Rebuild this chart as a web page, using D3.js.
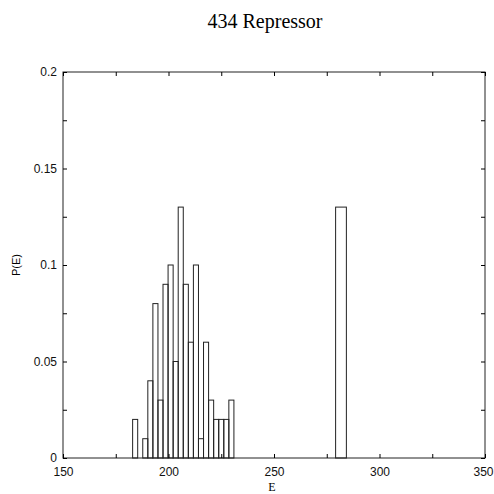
<!DOCTYPE html>
<html>
<head>
<meta charset="utf-8">
<script src="https://cdn.jsdelivr.net/npm/d3@7"></script>
<style>
  body { margin: 0; background: #fff; }
  .tick text { font-family: "Liberation Sans", Arial, sans-serif; font-size: 12px; fill: #111; }
</style>
</head>
<body>
<svg id="chart"></svg>
<script>
// histogram of energies, bins start at 183 and are 2.4 wide
const binStart = 183, binWidth = 2.4;
const binProbs = [0.02, 0, 0.01, 0.04, 0.08, 0.03, 0.09, 0.1, 0.05, 0.13,
                  0.09, 0.06, 0.1, 0.01, 0.06, 0.03, 0.02, 0.02, 0.02, 0.03];
// the lone tall bar on the right
const nativeBar = { e0: 279.2, e1: 284.3, p: 0.13 };

const xTicks = [150, 175, 200, 225, 250, 275, 300, 325, 350];
const xTickLabels = [150, 200, 250, 300, 350];
const yTicks = [0, 0.025, 0.05, 0.075, 0.1, 0.125, 0.15, 0.175, 0.2];
const yTickLabels = ["0", "0.05", "0.1", "0.15", "0.2"];

const width = 494, height = 494;
const margin = { top: 72, right: 9, bottom: 36, left: 63 };

const svg = d3.select("#chart")
    .attr("width", width)
    .attr("height", height);

const x = d3.scaleLinear().domain([150, 350]).range([margin.left, width - margin.right]);
const y = d3.scaleLinear().domain([0, 0.2]).range([height - margin.bottom, margin.top]);

const bins = binProbs.map((p, i) => ({ e0: binStart + i * binWidth, e1: binStart + (i + 1) * binWidth, p }));

//bars
svg.append("g")
  .selectAll("rect")
  .data(bins.concat([nativeBar]).filter(d => d.p > 0))
  .join("rect")
    .attr("x", d => x(d.e0))
    .attr("y", d => y(d.p))
    .attr("width", d => x(d.e1) - x(d.e0))
    .attr("height", d => y(0) - y(d.p))
    .attr("fill", "none")
    .attr("stroke", "#222")
    .attr("stroke-width", 1);

//frame
svg.append("rect")
    .attr("x", margin.left)
    .attr("y", margin.top)
    .attr("width", width - margin.left - margin.right)
    .attr("height", height - margin.top - margin.bottom)
    .attr("fill", "none")
    .attr("stroke", "#222");

const xLab = d => xTickLabels.includes(d) ? d : "";
const yLab = d => {
  const i = [0, 0.05, 0.1, 0.15, 0.2].findIndex(v => Math.abs(v - d) < 1e-9);
  return i >= 0 ? yTickLabels[i] : "";
};

//axes with inward ticks on all four sides
svg.append("g")
    .attr("transform", `translate(0,${y(0)})`)
    .call(d3.axisBottom(x).tickValues(xTicks).tickSize(-4).tickPadding(9).tickFormat(xLab))
    .call(g => g.select(".domain").remove())
    .call(g => g.selectAll(".tick text").filter(d => d === 350).attr("dx", -2));
svg.append("g")
    .attr("transform", `translate(0,${y(0.2)})`)
    .call(d3.axisTop(x).tickValues(xTicks).tickSize(-4).tickFormat(""))
    .call(g => g.select(".domain").remove());
svg.append("g")
    .attr("transform", `translate(${x(150)},0)`)
    .call(d3.axisLeft(y).tickValues(yTicks).tickSize(-4).tickPadding(6).tickFormat(yLab))
    .call(g => g.select(".domain").remove());
svg.append("g")
    .attr("transform", `translate(${x(350)},0)`)
    .call(d3.axisRight(y).tickValues(yTicks).tickSize(-4).tickFormat(""))
    .call(g => g.select(".domain").remove());

//title and axis labels
svg.append("text")
    .attr("x", 265).attr("y", 28)
    .attr("text-anchor", "middle")
    .attr("font-family", "Liberation Serif, Times New Roman, serif")
    .attr("font-size", 20)
    .text("434 Repressor");

svg.append("text")
    .attr("x", x(250) - 2).attr("y", 491)
    .attr("text-anchor", "middle")
    .attr("font-family", "Liberation Serif, serif")
    .attr("font-size", 12)
    .text("E");

svg.append("text")
    .attr("transform", `translate(20,${y(0.1)}) rotate(-90)`)
    .attr("text-anchor", "middle")
    .attr("font-family", "Liberation Sans, sans-serif")
    .attr("font-size", 11)
    .text("P(E)");
</script>
</body>
</html>
